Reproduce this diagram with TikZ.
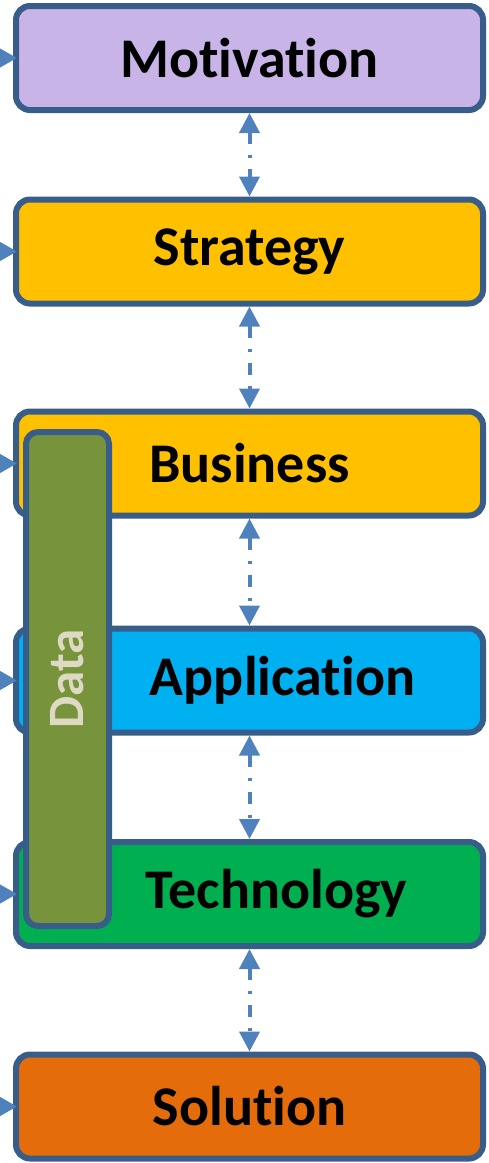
\documentclass[tikz,border=0pt]{standalone}
\usepackage{fontspec}
\setmainfont{Carlito}[Ligatures=NoCommon]
\usetikzlibrary{arrows.meta,positioning}
\definecolor{layerline}{HTML}{385D8A}
\definecolor{linkblue}{HTML}{4F81BD}
\definecolor{motivfill}{HTML}{C9B4E7}
\definecolor{stratfill}{HTML}{FFC000}
\definecolor{appfill}{HTML}{00B0F0}
\definecolor{techfill}{HTML}{00B050}
\definecolor{solfill}{HTML}{E46C0A}
\definecolor{datafill}{HTML}{77933C}
\definecolor{datatext}{HTML}{DDD9C3}
\tikzset{
  layer/.style={draw=layerline,line width=6pt,rounded corners=14pt,
    minimum width=467pt,minimum height=104pt,inner sep=0pt,
    font=\fontsize{56}{60}\selectfont\bfseries},
  layertext/.style={inner sep=0pt,font=\fontsize{56}{60}\selectfont\bfseries},
  link/.style={draw=linkblue,line width=4pt,
    dash pattern=on 12pt off 11pt on 3pt off 11pt,
    {Triangle[width=20pt,length=20pt]}-{Triangle[width=20pt,length=20pt]}},
  feed/.style={draw=linkblue,line width=4pt,shorten >=-4pt,
    -{Triangle[width=18pt,length=17pt]}}
}
\begin{document}
\begin{tikzpicture}[x=1pt,y=1pt]
  \useasboundingbox (0,0) rectangle (488,-1163);
  %LAYERS
  \node[layer,fill=motivfill] (motivation) at (249.5,-58) {Motivation};
  \node[layer,fill=stratfill] (strategy) at (249.5,-251.5) {Strategy};
  \node[layer,fill=stratfill] (business) at (249.5,-463.5) {Business};
  \node[layer,fill=appfill] (application) at (249.5,-680.5) {};
  \node[layertext] (applicationtext) at ([xshift=33pt]application.center) {Application};
  \node[layer,fill=techfill] (technology) at (249.5,-894) {};
  \node[layertext] (technologytext) at ([xshift=27pt]technology.center) {Technology};
  \node[layer,fill=solfill] (solution) at (249.5,-1106.5) {Solution};
  %LINKS
  \draw[link] (motivation.south) -- (strategy.north);
  \draw[link] (strategy.south) -- (business.north);
  \draw[link] (business.south) -- (application.north);
  \draw[link] (application.south) -- (technology.north);
  \draw[link] (technology.south) -- (solution.north);
  %INPUTS
  \foreach \n in {motivation,strategy,business,application,technology,solution}{
    \coordinate (\n-in) at ([xshift=-30pt]\n.west);
    \draw[feed] (\n-in) -- (\n.west);
  }
  %DATA
  \node[draw=layerline,line width=6pt,fill=datafill,rounded corners=12pt,
    rotate=90,minimum width=494pt,minimum height=83pt,inner sep=0pt,
    text=datatext,font=\fontsize{51}{56}\selectfont\bfseries] (data) at (67.5,-679) {Data};
\end{tikzpicture}
\end{document}
